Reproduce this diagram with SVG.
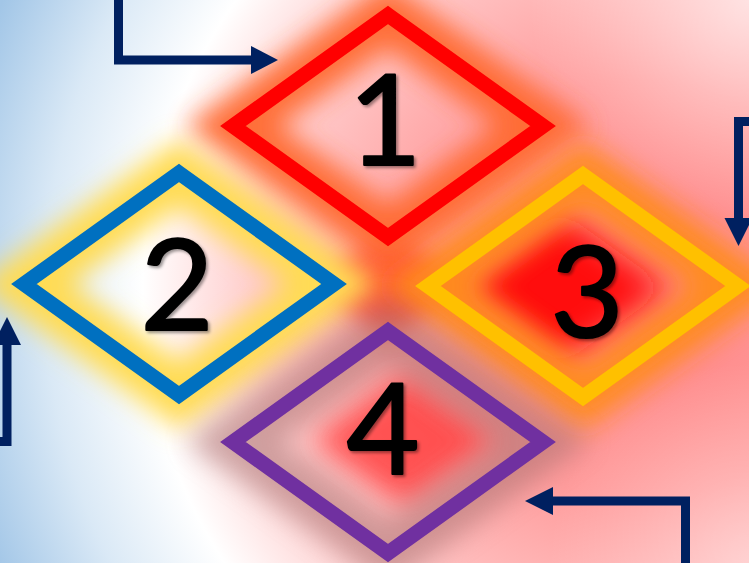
<svg xmlns="http://www.w3.org/2000/svg" width="749" height="563" viewBox="0 0 749 563">
<defs>
<radialGradient id="bg" gradientUnits="userSpaceOnUse" cx="640" cy="290" r="700">
<stop offset="0" stop-color="#FF8080"/>
<stop offset="0.3" stop-color="#FF9C9C"/>
<stop offset="0.55" stop-color="#FFCCCC"/>
<stop offset="0.71" stop-color="#FFFFFF"/>
<stop offset="0.85" stop-color="#DAE9F6"/>
<stop offset="1" stop-color="#A2C6E7"/>
</radialGradient>
<radialGradient id="tr" gradientUnits="userSpaceOnUse" cx="749" cy="0" r="220">
<stop offset="0" stop-color="#FFFFFF" stop-opacity="0.6"/>
<stop offset="1" stop-color="#FFFFFF" stop-opacity="0"/>
</radialGradient>
<radialGradient id="br" gradientUnits="userSpaceOnUse" cx="749" cy="563" r="200">
<stop offset="0" stop-color="#FFFFFF" stop-opacity="0.4"/>
<stop offset="1" stop-color="#FFFFFF" stop-opacity="0"/>
</radialGradient>
<filter id="glow" x="-50%" y="-50%" width="200%" height="200%"><feGaussianBlur stdDeviation="13"/></filter>
<filter id="soft" x="-50%" y="-50%" width="200%" height="200%"><feGaussianBlur stdDeviation="24"/></filter>
<filter id="shadow" x="-20%" y="-20%" width="140%" height="140%"><feDropShadow dx="2" dy="2" stdDeviation="1.5" flood-color="#000" flood-opacity="0.4"/></filter>
<polygon id="dia" points="0,-111 155,0 0,111 -155,0"/>
<style>
.edge{fill:none;stroke:#002060;stroke-width:9;stroke-linejoin:miter}
.head{fill:#002060}
.frame{fill:none;stroke-width:15;stroke-linejoin:miter;stroke-miterlimit:10}
.halo{fill:none;stroke-width:54;filter:url(#glow)}
.core{filter:url(#soft)}
.num{font-family:Lato,"Liberation Sans",sans-serif;font-size:126px;fill:#000;stroke:#000;stroke-width:2.2;stroke-linejoin:round;text-anchor:middle;filter:url(#shadow)}
</style>
</defs>
<rect width="749" height="563" fill="url(#bg)"/>
<rect width="749" height="563" fill="url(#tr)"/>
<rect width="749" height="563" fill="url(#br)"/>
<g id="halos">
<use href="#dia" transform="translate(388,284) scale(0.5)" fill="#FF3A20" class="core" opacity="0.8"/>
<use href="#dia" transform="translate(560,288) scale(0.7)" fill="#FF1010" class="core"/>
<use href="#dia" transform="translate(405,440) scale(0.6)" fill="#FF3A3A" class="core" opacity="0.8"/>
<use href="#dia" transform="translate(388,126)" class="halo" stroke="#FF6A30" opacity="0.95"/>
<use href="#dia" transform="translate(179,284)" class="halo" stroke="#FFDC55" opacity="1"/>
<use href="#dia" transform="translate(583,286)" class="halo" stroke="#FF8C1A" opacity="0.95"/>
<use href="#dia" transform="translate(388,442)" class="halo" stroke="#A87070" opacity="0.55"/>
</g>
<g id="connectors">
<path class="edge" d="M118.5,0 V60 H253"/>
<polygon class="head" points="251,46 278,60 251,74"/>
<path class="edge" d="M749,121.5 H738.5 V219"/>
<polygon class="head" points="724.5,218 752.5,218 738.5,246"/>
<path class="edge" d="M0,441.5 H7 V344"/>
<polygon class="head" points="-7,345 21,345 7,317"/>
<path class="edge" d="M685.5,563 V501 H552"/>
<polygon class="head" points="553,487 525,501 553,515"/>
</g>
<g id="node1">
<use href="#dia" transform="translate(388,126)" class="frame" stroke="#FF0000"/>
<text class="num" x="385" y="165">1</text>
</g>
<g id="node2">
<use href="#dia" transform="translate(179,284)" class="frame" stroke="#0070C0"/>
<text class="num" x="177" y="330">2</text>
</g>
<g id="node3">
<use href="#dia" transform="translate(583,286)" class="frame" stroke="#FFC000"/>
<text class="num" x="587" y="337">3</text>
</g>
<g id="node4">
<use href="#dia" transform="translate(388,442)" class="frame" stroke="#7030A0"/>
<text class="num" x="383" y="474">4</text>
</g>
</svg>
